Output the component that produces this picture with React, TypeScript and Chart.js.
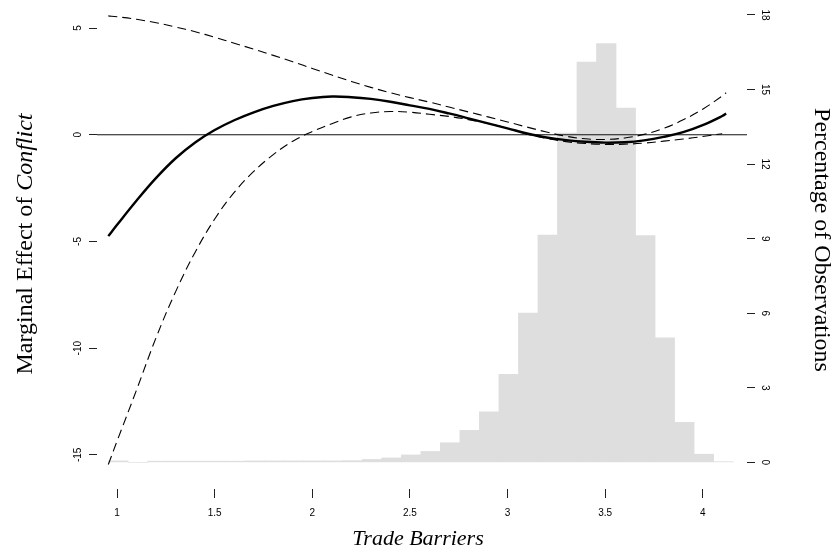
import React, { useEffect, useRef } from "react";
import { Chart, registerables } from "chart.js";

Chart.register(...registerables);

// ---- axis ticks ----
const xTickValues = [1, 1.5, 2, 2.5, 3, 3.5, 4];
const leftTickValues = [-15, -10, -5, 0, 5];
const rightTickValues = [0, 3, 6, 9, 12, 15, 18];

// ---- axis labels ----
const xTitle = "Trade Barriers";
const leftTitlePlain = "Marginal Effect of ";
const leftTitleItalic = "Conflict";
const rightTitle = "Percentage of Observations";

// ---- histogram (percentage of observations per bin) ----
const binCenters = [
  1.006, 1.106, 1.206, 1.306, 1.406, 1.506, 1.606, 1.706, 1.806, 1.906, 2.006,
  2.106, 2.206, 2.306, 2.406, 2.506, 2.606, 2.706, 2.806, 2.906, 3.006, 3.106,
  3.206, 3.306, 3.406, 3.506, 3.606, 3.706, 3.806, 3.906, 4.006, 4.106,
];
const binPercent = [
  0.06, 0, 0.05, 0.05, 0.05, 0.05, 0.05, 0.06, 0.06, 0.06, 0.06,
  0.06, 0.07, 0.12, 0.18, 0.3, 0.44, 0.79, 1.29, 2.03, 3.54, 6.01,
  9.15, 13.25, 16.1, 16.85, 14.25, 9.12, 5.01, 1.61, 0.33, 0.03,
];

// ---- marginal effect curve and confidence bounds ----
const curveX = [
  0.955, 1.0, 1.1, 1.2, 1.3, 1.4, 1.5, 1.6, 1.7, 1.8, 1.9, 2.0, 2.1, 2.2, 2.3,
  2.4, 2.5, 2.6, 2.7, 2.8, 2.9, 3.0, 3.1, 3.2, 3.3, 3.4, 3.5, 3.6, 3.7, 3.8,
  3.9, 4.0, 4.1, 4.12,
];
const effect = [
  -4.75, -4.22, -3.08, -2.02, -1.1, -0.36, 0.22, 0.68, 1.05, 1.35, 1.58, 1.72,
  1.79, 1.76, 1.68, 1.55, 1.38, 1.21, 1.0, 0.77, 0.53, 0.3, 0.06, -0.13, -0.25,
  -0.33, -0.37, -0.35, -0.26, -0.1, 0.12, 0.45, 0.88, 1.0,
];
const upperBound = [
  5.57, 5.53, 5.41, 5.25, 5.05, 4.83, 4.57, 4.29, 4.01, 3.72, 3.42, 3.11, 2.8,
  2.5, 2.22, 1.97, 1.74, 1.53, 1.3, 1.07, 0.84, 0.6, 0.36, 0.13, -0.07, -0.19,
  -0.22, -0.15, 0.02, 0.3, 0.7, 1.2, 1.82, 1.97,
];
const lowerBound = [
  -15.45, -14.35, -11.95, -9.5, -7.35, -5.5, -3.95, -2.7, -1.72, -0.93, -0.3,
  0.15, 0.52, 0.84, 1.02, 1.09, 1.06, 0.96, 0.86, 0.71, 0.53, 0.3, 0.03, -0.17,
  -0.32, -0.41, -0.45, -0.44, -0.39, -0.3, -0.2, -0.08, 0.05, null,
];

// ---- axis ranges ----
const xMin = 0.897;
const xMax = 4.227;
const leftMin = -16.6;
const leftMax = 5.847;
const rightMin = -1.07;
const rightMax = 18.2;

const SANS = "'Liberation Sans', Arial, Helvetica, sans-serif";
const SERIF = "'Liberation Serif', 'Times New Roman', serif";

const titlesPlugin = {
  id: "rTitles",
  afterDraw(chart: any) {
    const ctx = chart.ctx as CanvasRenderingContext2D;
    ctx.save();
    ctx.fillStyle = "#000";
    ctx.textBaseline = "alphabetic";
    ctx.textAlign = "left";

    // left title (bottom-to-top), mixed roman / italic
    const fPlain = `24px ${SERIF}`;
    const fItal = `italic 24px ${SERIF}`;
    ctx.font = fPlain;
    const w1 = ctx.measureText(leftTitlePlain).width;
    ctx.font = fItal;
    const w2 = ctx.measureText(leftTitleItalic).width;
    ctx.save();
    ctx.translate(32, 244);
    ctx.rotate(-Math.PI / 2);
    const start = -(w1 + w2) / 2;
    ctx.font = fPlain;
    ctx.fillText(leftTitlePlain, start, 0);
    ctx.font = fItal;
    ctx.fillText(leftTitleItalic, start + w1, 0);
    ctx.restore();

    // right title (top-to-bottom)
    ctx.save();
    ctx.translate(815, 240);
    ctx.rotate(Math.PI / 2);
    ctx.font = `24px ${SERIF}`;
    ctx.textAlign = "center";
    ctx.fillText(rightTitle, 0, 0);
    ctx.restore();

    // bottom title
    ctx.font = `italic 22px ${SERIF}`;
    ctx.textAlign = "center";
    ctx.fillText(xTitle, 418, 545);
    ctx.restore();
  },
};

export default function App() {
  const canvasRef = useRef<HTMLCanvasElement | null>(null);

  useEffect(() => {
    if (!canvasRef.current) return;
    const gridCommon = {
      display: true,
      drawOnChartArea: false,
      drawTicks: true,
      color: "#222",
      lineWidth: 1,
    };
    const chart = new Chart(canvasRef.current, {
      type: "line",
      data: {
        datasets: [
          {
            type: "line",
            data: [
              { x: xMin, y: 0 },
              { x: xMax, y: 0 },
            ],
            borderColor: "#111",
            borderWidth: 1,
            pointRadius: 0,
            yAxisID: "y",
            order: 3,
          } as any,
          {
            type: "line",
            data: curveX.map((x, i) => ({ x, y: upperBound[i] })),
            borderColor: "#000",
            borderWidth: 1.1,
            borderDash: [9, 5],
            pointRadius: 0,
            tension: 0.4,
            yAxisID: "y",
            order: 2,
          } as any,
          {
            type: "line",
            data: curveX.map((x, i) => ({ x, y: lowerBound[i] })),
            borderColor: "#000",
            borderWidth: 1.1,
            borderDash: [9, 5],
            pointRadius: 0,
            tension: 0.4,
            spanGaps: false,
            yAxisID: "y",
            order: 2,
          } as any,
          {
            type: "line",
            data: curveX.map((x, i) => ({ x, y: effect[i] })),
            borderColor: "#000",
            borderWidth: 2.4,
            pointRadius: 0,
            tension: 0.4,
            yAxisID: "y",
            order: 1,
          } as any,
          {
            type: "bar",
            data: binCenters.map((x, i) => ({ x, y: binPercent[i] })),
            backgroundColor: "#dedede",
            borderWidth: 0,
            barPercentage: 1,
            categoryPercentage: 1,
            yAxisID: "y2",
            order: 10,
          } as any,
        ],
      },
      options: {
        responsive: false,
        devicePixelRatio: 1,
        animation: false,
        layout: { padding: { top: 8, left: 0, right: 0, bottom: 0 } },
        plugins: {
          legend: { display: false },
          tooltip: { enabled: false },
        },
        scales: {
          x: {
            type: "linear",
            position: "bottom",
            min: xMin,
            max: xMax,
            offset: false,
            grid: { ...gridCommon, tickLength: 9, offset: false },
            border: { display: false },
            afterBuildTicks: (s: any) => {
              s.ticks = xTickValues.map((v) => ({ value: v }));
            },
            afterFit: (s: any) => {
              s.height = 62;
            },
            ticks: {
              autoSkip: false,
              maxRotation: 0,
              minRotation: 0,
              padding: 9,
              color: "#000",
              font: { family: SANS, size: 10 },
              callback: (v: any) => String(v),
            },
          },
          y: {
            type: "linear",
            position: "left",
            min: leftMin,
            max: leftMax,
            grid: { ...gridCommon, tickLength: 8 },
            border: { display: false },
            afterBuildTicks: (s: any) => {
              s.ticks = leftTickValues.map((v) => ({ value: v }));
            },
            afterFit: (s: any) => {
              s.width = 97;
            },
            ticks: {
              minRotation: 90,
              maxRotation: 90,
              crossAlign: "center",
              padding: 4,
              color: "#000",
              font: { family: SANS, size: 10 },
              callback: (v: any) => String(v),
            },
          },
          y2: {
            type: "linear",
            position: "right",
            min: rightMin,
            max: rightMax,
            grid: { ...gridCommon, tickLength: 8 },
            border: { display: false },
            afterBuildTicks: (s: any) => {
              s.ticks = rightTickValues.map((v) => ({ value: v }));
            },
            afterFit: (s: any) => {
              s.width = 86;
            },
            ticks: {
              minRotation: -90,
              maxRotation: -90,
              crossAlign: "center",
              padding: 4,
              color: "#000",
              font: { family: SANS, size: 10 },
              callback: (v: any) => String(v),
            },
          },
        },
      } as any,
      plugins: [titlesPlugin],
    });
    return () => chart.destroy();
  }, []);

  return (
    <div
      style={{
        position: "fixed",
        left: 0,
        top: 0,
        width: 833,
        height: 551,
        background: "#fff",
      }}
    >
      <canvas ref={canvasRef} width={833} height={551} />
    </div>
  );
}
